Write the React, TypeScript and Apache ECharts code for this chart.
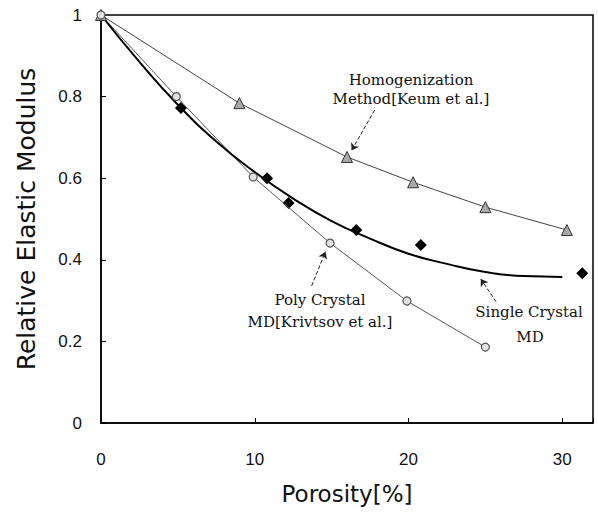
import React, { useEffect, useRef } from "react";
import * as echarts from "echarts";

// Porosity [%] and relative elastic modulus
const homogX = [0, 9, 16, 20.3, 25, 30.3];
const homogY = [1, 0.784, 0.652, 0.59, 0.529, 0.473];

const polyX = [0, 4.9, 9.9, 14.9, 19.9, 25];
const polyY = [1, 0.8, 0.603, 0.441, 0.299, 0.186];

const singleX = [5.2, 10.8, 12.2, 16.6, 20.8, 31.3];
const singleY = [0.772, 0.6, 0.539, 0.473, 0.436, 0.367];

// fitted curve through single crystal MD results
const fitX = [0, 2.5, 5, 7.5, 10, 12.5, 15, 17.5, 20, 22.5, 25, 27.5, 30];
const fitY = [1, 0.885, 0.78, 0.69, 0.615, 0.55, 0.495, 0.452, 0.415, 0.39, 0.37, 0.36, 0.358];

const xTicks = [0, 10, 20, 30];
const yTicks = [0, 0.2, 0.4, 0.6, 0.8, 1];

const zip = (xs: number[], ys: number[]) => xs.map((x, i) => [x, ys[i]]);

export default function App() {
  const ref = useRef<HTMLDivElement>(null);
  useEffect(() => {
    if (!ref.current) return;
    const chart = echarts.init(ref.current, null, { renderer: "svg" });
    const serif = "DejaVu Serif";
    const annText = (text: string, x: number, y: number) => ({
      type: "text",
      x,
      y,
      style: {
        text,
        font: `15px "${serif}"`,
        fill: "#111",
        align: "center",
        verticalAlign: "middle",
      },
    });
    const arrow = (from: number[], to: number[]) => [
      { coord: from, symbol: "none" },
      { coord: to, symbol: "arrow" },
    ];
    chart.setOption({
      animation: false,
      backgroundColor: "#ffffff",
      grid: {
        left: 101,
        top: 15,
        right: 5,
        bottom: 90,
        show: true,
        borderColor: "#000",
        borderWidth: 1.5,
        backgroundColor: "transparent",
      },
      xAxis: {
        type: "value",
        min: 0,
        max: 32,
        interval: 10,
        name: "Porosity[%]",
        nameLocation: "middle",
        nameGap: 59,
        nameTextStyle: { fontFamily: "DejaVu Sans", fontSize: 23, color: "#111" },
        axisLine: { show: true, onZero: false, lineStyle: { color: "#000", width: 1.5 } },
        axisTick: { show: true, inside: true, length: 5, lineStyle: { color: "#000" } },
        axisLabel: {
          margin: 28,
          fontFamily: "Liberation Sans",
          fontSize: 17,
          color: "#111",
          customValues: xTicks,
        },
        splitLine: { show: false },
      },
      yAxis: {
        type: "value",
        min: 0,
        max: 1,
        interval: 0.2,
        name: "Relative Elastic Modulus",
        nameLocation: "middle",
        nameGap: 62,
        nameTextStyle: { fontFamily: "DejaVu Sans", fontSize: 25, color: "#111" },
        axisLine: { show: true, onZero: false, lineStyle: { color: "#000", width: 1.5 } },
        axisTick: { show: true, inside: true, length: 5, lineStyle: { color: "#000" } },
        axisLabel: {
          margin: 19,
          fontFamily: "Liberation Sans",
          fontSize: 17,
          color: "#111",
          customValues: yTicks,
        },
        splitLine: { show: false },
      },
      series: [
        {
          name: "Homogenization Method",
          type: "line",
          data: zip(homogX, homogY),
          symbol: "triangle",
          symbolSize: 11,
          lineStyle: { color: "#444", width: 1 },
          itemStyle: { color: "#a8a8a8", borderColor: "#333", borderWidth: 1 },
          markLine: {
            silent: true,
            symbolSize: 7,
            label: { show: false },
            lineStyle: { color: "#222", type: "dashed", width: 1 },
            data: [arrow([17.8, 0.767], [16.3, 0.668])],
          },
        },
        {
          name: "Poly Crystal MD",
          type: "line",
          data: zip(polyX, polyY),
          symbol: "circle",
          symbolSize: 8,
          lineStyle: { color: "#555", width: 1 },
          itemStyle: { color: "#e2e2e2", borderColor: "#555", borderWidth: 1.2 },
          markLine: {
            silent: true,
            symbolSize: 7,
            label: { show: false },
            lineStyle: { color: "#222", type: "dashed", width: 1 },
            data: [arrow([13.7, 0.336], [14.6, 0.42])],
          },
        },
        {
          name: "Single Crystal MD fit",
          type: "line",
          data: zip(fitX, fitY),
          smooth: true,
          showSymbol: false,
          symbol: "none",
          lineStyle: { color: "#000", width: 2 },
          markLine: {
            silent: true,
            symbolSize: 7,
            label: { show: false },
            lineStyle: { color: "#222", type: "dashed", width: 1 },
            data: [arrow([25.7, 0.297], [24.7, 0.353])],
          },
        },
        {
          name: "Single Crystal MD",
          type: "scatter",
          data: zip(singleX, singleY),
          symbol: "diamond",
          symbolSize: 12,
          itemStyle: { color: "#000", opacity: 1 },
        },
      ],
      graphic: [
        annText("Homogenization", 411, 80),
        annText("Method[Keum et al.]", 411, 99),
        annText("Poly Crystal", 320, 300),
        annText("MD[Krivtsov et al.]", 320, 322),
        annText("Single Crystal", 529, 312),
        annText("MD", 530, 337),
      ],
    });
    return () => chart.dispose();
  }, []);
  return (
    <div
      ref={ref}
      style={{ position: "fixed", left: 0, top: 0, width: 598, height: 513 }}
    />
  );
}
